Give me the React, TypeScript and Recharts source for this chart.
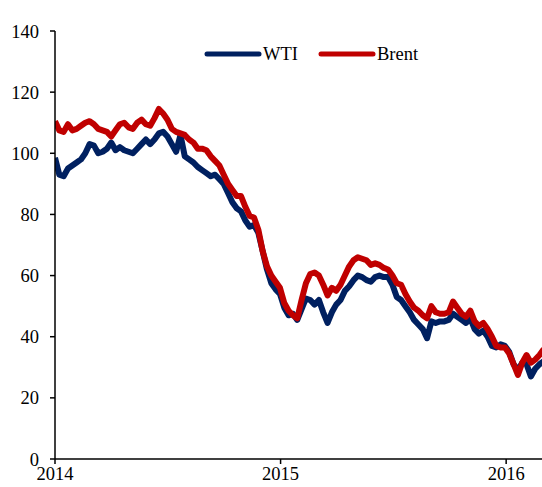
import React from "react";
import { LineChart, Line, XAxis, YAxis } from "recharts";

// weekly observations, US$ per barrel
const dates = [
  "2014-01-01", "2014-01-08", "2014-01-15", "2014-01-22", "2014-01-29", "2014-02-05", "2014-02-12", "2014-02-19",
  "2014-02-26", "2014-03-05", "2014-03-12", "2014-03-19", "2014-03-26", "2014-04-02", "2014-04-09", "2014-04-16",
  "2014-04-23", "2014-04-30", "2014-05-07", "2014-05-14", "2014-05-21", "2014-05-28", "2014-06-04", "2014-06-11",
  "2014-06-18", "2014-06-25", "2014-07-02", "2014-07-09", "2014-07-16", "2014-07-23", "2014-07-30", "2014-08-06",
  "2014-08-13", "2014-08-20", "2014-08-27", "2014-09-03", "2014-09-10", "2014-09-17", "2014-09-24", "2014-10-01",
  "2014-10-08", "2014-10-15", "2014-10-22", "2014-10-29", "2014-11-05", "2014-11-12", "2014-11-19", "2014-11-26",
  "2014-12-03", "2014-12-10", "2014-12-17", "2014-12-24", "2014-12-31", "2015-01-07", "2015-01-14", "2015-01-21",
  "2015-01-28", "2015-02-04", "2015-02-11", "2015-02-18", "2015-02-25", "2015-03-04", "2015-03-11", "2015-03-18",
  "2015-03-25", "2015-04-01", "2015-04-08", "2015-04-15", "2015-04-22", "2015-04-29", "2015-05-06", "2015-05-13",
  "2015-05-20", "2015-05-27", "2015-06-03", "2015-06-10", "2015-06-17", "2015-06-24", "2015-07-01", "2015-07-08",
  "2015-07-15", "2015-07-22", "2015-07-29", "2015-08-05", "2015-08-12", "2015-08-19", "2015-08-26", "2015-09-02",
  "2015-09-09", "2015-09-16", "2015-09-23", "2015-09-30", "2015-10-07", "2015-10-14", "2015-10-21", "2015-10-28",
  "2015-11-04", "2015-11-11", "2015-11-18", "2015-11-25", "2015-12-02", "2015-12-09", "2015-12-16", "2015-12-23",
  "2015-12-30", "2016-01-06", "2016-01-13", "2016-01-20", "2016-01-27", "2016-02-03", "2016-02-10", "2016-02-17",
  "2016-02-24", "2016-03-02",
];

const wti = [
  98.5, 93, 92.5, 95, 96, 97, 98, 100,
  103, 102.5, 100, 100.5, 101.5, 103.5, 101, 102,
  101, 100.5, 100, 101.5, 103, 104.5, 103, 104.5,
  106.5, 107, 105.5, 103, 100.5, 106, 99, 98,
  97, 95.5, 94.5, 93.5, 92.5, 93, 91.5, 90,
  87, 84, 82, 81, 78, 76, 76.5, 74,
  68, 62, 57.5, 55.5, 54, 49.5, 47, 47.5,
  45.5, 49, 52.5, 52, 50.5, 52, 48, 44.5,
  48, 50.5, 52, 55, 56.5, 58.5, 60, 59.5,
  58.5, 58, 59.5, 60, 59.5, 59.5, 57, 53,
  52, 50, 48, 45.5, 44, 42.5, 39.5, 45,
  44.5, 45, 45, 45.5, 47.5, 46.5, 45.5, 44.5,
  46, 42.5, 41, 42, 40, 37, 36.5, 37.5,
  37, 35, 31, 29, 31.5, 31, 27, 29.5,
  31, 32,
];

const brent = [
  110.5, 107.5, 107, 109.5, 107.5, 108, 109, 110,
  110.5, 109.5, 108, 107.5, 107, 105.5, 107.5, 109.5,
  110, 108.5, 108, 110, 111, 109.5, 109, 111.5,
  114.5, 113, 111, 108, 107, 106.5, 106, 104.5,
  103.5, 101.5, 101.5, 101, 99, 97.5, 96, 93,
  90, 88, 86, 86, 82.5, 79.5, 79, 75,
  68, 63, 60, 58, 56, 51, 48.5, 47,
  46, 52, 57.5, 60.5, 61, 60, 57, 53.5,
  56, 55, 57, 60, 63, 65, 66, 65.5,
  65, 63.5, 64, 63.5, 62.5, 62, 60, 57.5,
  57, 54, 51.5, 49.5, 48.5, 47, 46, 50,
  48, 47.5, 47.5, 48, 51.5, 49.5, 47.5, 46.5,
  48.5, 45, 43.5, 44.5, 42.5, 40, 37, 36.5,
  36.5, 34.5, 31, 27.5, 31.5, 34, 31.5, 32.5,
  34, 36,
];

const yTicks = [0, 20, 40, 60, 80, 100, 120, 140];
const yearTicks = ["2014-01-01", "2015-01-01", "2016-01-01"];
const xEnd = "2016-02-28";

const ts = (d: string) => Date.parse(d + "T00:00:00Z");

const rows = dates.map((d, i) => ({ t: ts(d), wti: wti[i], brent: brent[i] }));

const NAVY = "#002060";
const RED = "#C00000";
const FONT = "'Liberation Serif', 'Times New Roman', serif";

function LegendBox() {
  const items = [
    { name: "WTI", color: NAVY, x: 0 },
    { name: "Brent", color: RED, x: 114 },
  ];
  return (
    <svg width={240} height={24} style={{ position: "absolute", left: 204, top: 42 }}>
      {items.map((it) => (
        <g key={it.name}>
          <line x1={it.x + 3} y1={12} x2={it.x + 55} y2={12} stroke={it.color} strokeWidth={5} strokeLinecap="round" />
          <text x={it.x + 59} y={18} fontSize={18.5} fontFamily={FONT} fill="#000">{it.name}</text>
        </g>
      ))}
    </svg>
  );
}

export default function App() {
  return (
    <div style={{ position: "absolute", left: 0, top: 0, width: 542, height: 487, overflow: "hidden", background: "#fff" }}>
      <LineChart width={542} height={487} data={rows} margin={{ top: 31, right: 0, bottom: 0, left: 0 }}>
        <XAxis
          dataKey="t" type="number" scale="time"
          domain={[ts(yearTicks[0]), ts(xEnd)]} allowDataOverflow
          ticks={yearTicks.map(ts)}
          tickFormatter={(v: number) => String(new Date(v).getUTCFullYear())}
          height={28} tickSize={5} tickMargin={3}
          axisLine={{ stroke: "#000", strokeWidth: 1.5 }}
          tickLine={{ stroke: "#000", strokeWidth: 1.5 }}
          tick={{ fontSize: 18.5, fontFamily: FONT, fill: "#000" }}
        />
        <YAxis
          domain={[0, 140]} ticks={yTicks} interval={0}
          width={55} tickSize={5} tickMargin={11}
          axisLine={{ stroke: "#000", strokeWidth: 1.5 }}
          tickLine={{ stroke: "#000", strokeWidth: 1.5 }}
          tick={{ fontSize: 18.5, fontFamily: FONT, fill: "#000" }}
        />
        <Line type="linear" dataKey="wti" name="WTI" stroke={NAVY} strokeWidth={6} strokeLinejoin="round" dot={false} isAnimationActive={false} />
        <Line type="linear" dataKey="brent" name="Brent" stroke={RED} strokeWidth={6} strokeLinejoin="round" dot={false} isAnimationActive={false} />
      </LineChart>
      <LegendBox />
    </div>
  );
}
